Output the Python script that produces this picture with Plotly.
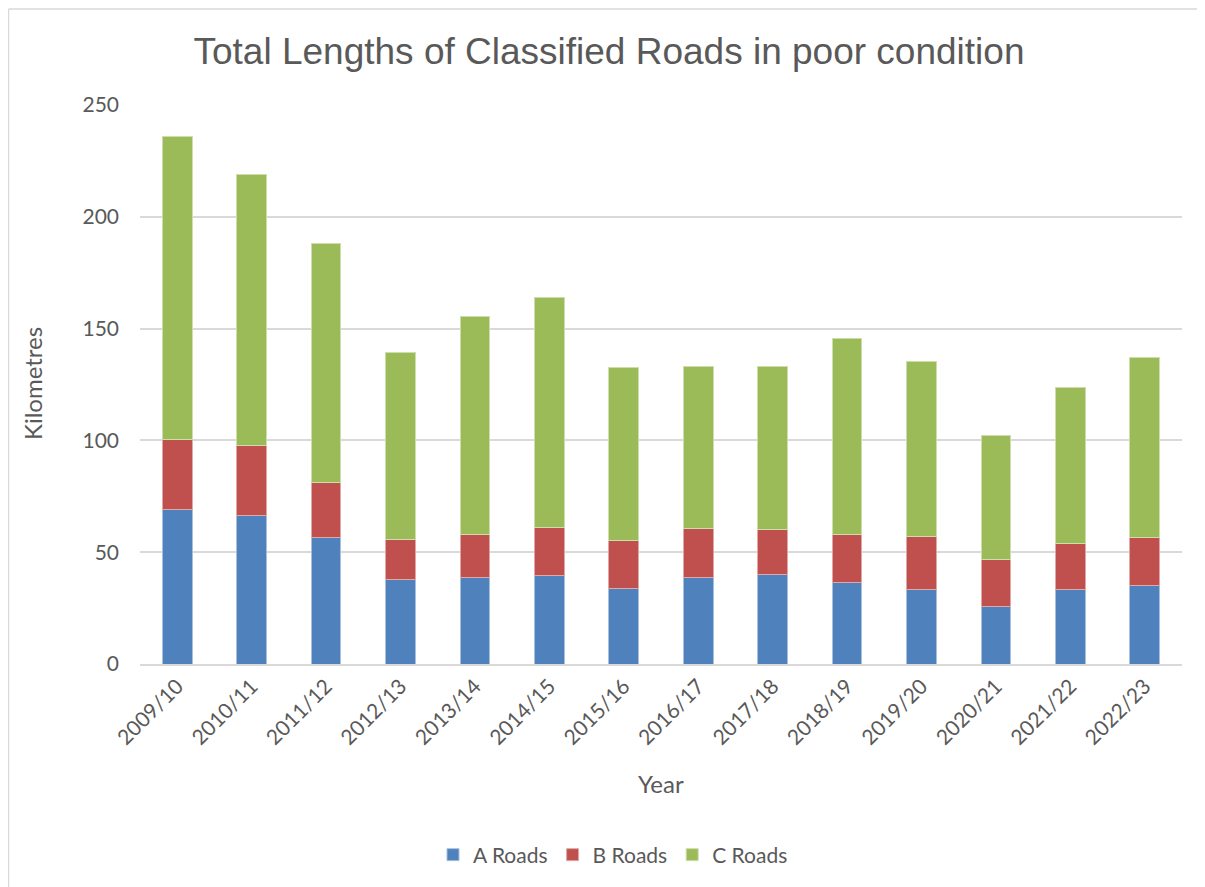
import plotly.graph_objects as go

years = ["2009/10", "2010/11", "2011/12", "2012/13", "2013/14", "2014/15", "2015/16",
         "2016/17", "2017/18", "2018/19", "2019/20", "2020/21", "2021/22", "2022/23"]
a_roads = [69.2, 66.6, 56.8, 37.6, 38.9, 39.8, 33.9, 38.8, 40.1, 36.6, 33.5, 25.5, 33.5, 34.9]
a_plus_b = [100.4, 97.5, 81.3, 55.6, 58.0, 61.1, 55.2, 60.5, 60.1, 58.0, 57.2, 46.8, 54.0, 56.8]
totals = [235.8, 218.7, 188.1, 139.5, 155.4, 163.8, 132.5, 133.0, 133.1, 145.7, 135.1, 102.1, 123.7, 136.9]

b_roads = [round(ab - a, 1) for ab, a in zip(a_plus_b, a_roads)]
c_roads = [round(t - ab, 1) for t, ab in zip(totals, a_plus_b)]

series = [("A Roads", a_roads, "#4F81BD", "#A7C0DE"),
          ("B Roads", b_roads, "#C0504D", "#E0A8A6"),
          ("C Roads", c_roads, "#9BBB59", "#CDDDAC")]

FW, FH = 1197, 879
L, T, W, H = 132, 97, 1042, 559
font_main = "Lato, 'Liberation Sans', sans-serif"
fig = go.Figure()
for name, vals, col, lcol in series:
    fig.add_trace(go.Bar(x=years, y=vals, name=name, marker=dict(color=col, line=dict(color=lcol, width=1))))

border = dict(color="#D9D9D9", width=1.5)
fig.update_layout(
    barmode="stack", bargap=0.6,
    width=FW, height=FH,
    margin=dict(l=L, r=FW - L - W, t=T, b=FH - T - H),
    paper_bgcolor="white", plot_bgcolor="white",
    font=dict(family=font_main, color="#595959", size=20),
    title=dict(text="Total Lengths of Classified Roads in poor condition",
               font=dict(family="'Liberation Sans', Arial, sans-serif", size=37, color="#595959"),
               x=601 / FW, xanchor="center", xref="container", y=1 - 43 / FH, yanchor="middle"),
    showlegend=True,
    legend=dict(orientation="h", x=(605 - L) / W, xanchor="center", y=(T + H - 847) / H, yanchor="middle",
                font=dict(size=21, color="#595959"), itemwidth=30, traceorder="normal"),
    xaxis=dict(showgrid=False, tickangle=-45, tickfont=dict(size=21, color="#595959"),
               showline=True, linecolor="#D9D9D9", linewidth=1.5, ticks=""),
    yaxis=dict(range=[0, 250], dtick=50, showgrid=True, gridcolor="#D9D9D9", gridwidth=1.5,
               zeroline=False, tickfont=dict(size=21, color="#595959"), ticks="", ticklabelstandoff=20),
    shapes=[
        dict(type="line", xref="paper", yref="paper",
             x0=(0.5 - L) / W, x1=(FW - L) / W, y0=(T + H - 1) / H, y1=(T + H - 1) / H, line=border),
        dict(type="line", xref="paper", yref="paper",
             x0=(0.5 - L) / W, x1=(0.5 - L) / W, y0=(T + H - FH) / H, y1=(T + H - 1) / H, line=border),
    ],
    annotations=[
        dict(text="Kilometres", xref="paper", yref="paper", x=(24 - L) / W, y=(T + H - 376) / H,
             showarrow=False, textangle=-90, font=dict(size=24, color="#595959"), xanchor="center", yanchor="middle"),
        dict(text="Year", xref="paper", yref="paper", x=(653 - L) / W, y=(T + H - 775) / H,
             showarrow=False, font=dict(size=24, color="#595959"), xanchor="center", yanchor="middle"),
    ],
)

fig.write_html("out.html")
